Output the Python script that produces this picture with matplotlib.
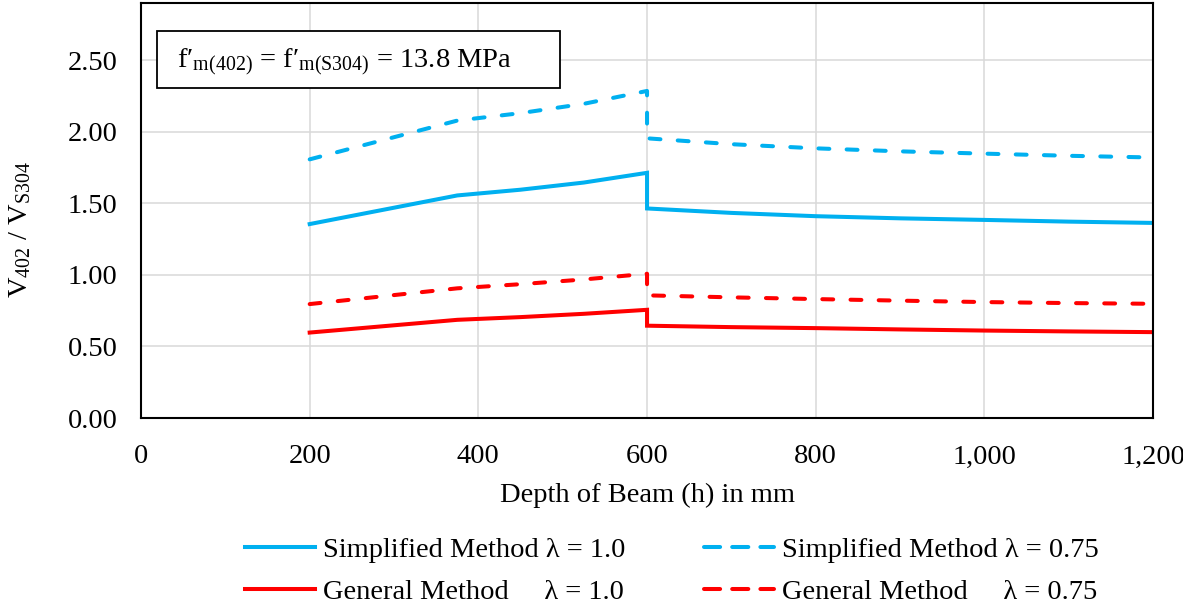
import matplotlib.pyplot as plt
from matplotlib.lines import Line2D
from matplotlib.patches import Rectangle
from matplotlib.ticker import FuncFormatter

plt.rcParams['font.family'] = ['Liberation Serif', 'DejaVu Serif']
plt.rcParams['mathtext.fontset'] = 'custom'
plt.rcParams['mathtext.rm'] = 'Liberation Serif'
plt.rcParams['mathtext.it'] = 'Liberation Serif:italic'

# depth of beam (mm); 600 appears twice because of the step in the curves
depth = [200, 375, 450, 525, 600, 600, 700, 800, 900, 1000, 1100, 1200]

simp_10 = [1.355, 1.555, 1.595, 1.645, 1.713, 1.464, 1.433, 1.410, 1.395, 1.384, 1.372, 1.363]
simp_075 = [1.807, 2.078, 2.130, 2.195, 2.285, 1.954, 1.913, 1.884, 1.863, 1.847, 1.832, 1.820]
gen_10 = [0.597, 0.686, 0.705, 0.728, 0.756, 0.645, 0.635, 0.628, 0.619, 0.611, 0.605, 0.600]
gen_075 = [0.796, 0.906, 0.935, 0.968, 1.008, 0.857, 0.843, 0.831, 0.820, 0.810, 0.803, 0.798]

labels = ['Simplified Method λ = 1.0', 'Simplified Method λ = 0.75',
          'General Method     λ = 1.0', 'General Method     λ = 0.75']

blue = '#00B0F0'
red = '#FF0000'
fs = 20.5

fig = plt.figure(figsize=(11.83, 6.06), dpi=100)
ax = fig.add_axes([0.1192, 0.3102, 0.8555, 0.685])

lw = 2.9
dash = (2.7, 4.3)
ax.plot(depth, simp_10, color=blue, lw=lw, solid_joinstyle='miter')
ax.plot(depth, gen_10, color=red, lw=lw, solid_joinstyle='miter')
ax.plot(depth, simp_075, color=blue, lw=lw, dashes=dash, dash_capstyle='round')
ax.plot(depth, gen_075, color=red, lw=lw, dashes=dash, dash_capstyle='round')

ax.set_xlim(0, 1200)
ax.set_ylim(0, 2.9)
ax.set_xticks(range(0, 1201, 200))
ax.set_yticks([0, 0.5, 1.0, 1.5, 2.0, 2.5])
ax.xaxis.set_major_formatter(FuncFormatter(lambda v, p: f'{int(v):,}'))
ax.yaxis.set_major_formatter(FuncFormatter(lambda v, p: f'{v:.2f}'))
ax.tick_params(axis='both', length=0, labelsize=fs)
ax.tick_params(axis='x', pad=19)
ax.tick_params(axis='y', pad=17)
ax.grid(True, color='#D9D9D9', lw=1.1)
ax.set_axisbelow(True)
for s in ax.spines.values():
    s.set_linewidth(1.5)
    s.set_color('black')

ax.set_xlabel('Depth of Beam (h) in mm', fontsize=fs, labelpad=10)
ax.set_ylabel(r'V$_{\mathrm{402}}$ / V$_{\mathrm{S304}}$', fontsize=fs, labelpad=25)
ax.yaxis.label.set_y(0.453)

ax.add_patch(Rectangle((0.0158, 0.795), 0.398, 0.1375, transform=ax.transAxes,
                       facecolor='white', edgecolor='black', lw=1.3, zorder=5))
ax.text(0.0356, 0.858, r'f′$_{\mathrm{m(402)}}$ = f′$_{\mathrm{m(S304)}}$ = 13.8 MPa',
        transform=ax.transAxes, fontsize=fs, va='center', ha='left', zorder=6)

# legend keys: the legend draws the dashes a bit longer than the plot
leg_dash = (4.0, 3.0)
h1 = Line2D([], [], color=blue, lw=lw)
h2 = Line2D([], [], color=blue, lw=lw, dashes=leg_dash, dash_capstyle='round')
h3 = Line2D([], [], color=red, lw=lw)
h4 = Line2D([], [], color=red, lw=lw, dashes=leg_dash, dash_capstyle='round')

# order so that rows read: simplified (1.0, 0.75), general (1.0, 0.75)
fig.legend([h1, h3, h2, h4], [labels[0], labels[2], labels[1], labels[3]],
           loc='center left', bbox_to_anchor=(0.2071, 0.058),
           ncol=2, frameon=False, fontsize=fs, handlelength=2.45, handletextpad=0.28,
           columnspacing=2.77, labelspacing=0.55, borderpad=0, borderaxespad=0)

plt.savefig('out.png', dpi=100)
